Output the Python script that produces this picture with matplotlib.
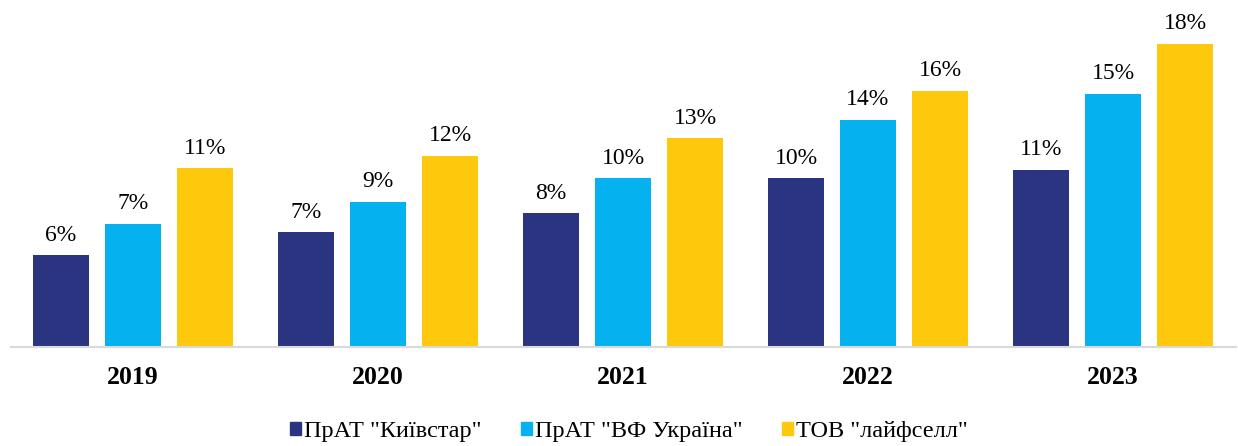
import numpy as np
import matplotlib.pyplot as plt
from matplotlib.patches import Patch

plt.rcParams['font.family'] = ['Liberation Serif', 'DejaVu Serif']

years = ['2019', '2020', '2021', '2022', '2023']
series_names = ['ПрАТ "Київстар"', 'ПрАТ "ВФ Україна"', 'ТОВ "лайфселл"']
kyivstar = [5.99, 7.30, 8.38, 10.37, 10.86]
vf = [7.77, 9.02, 10.37, 13.68, 15.18]
lifecell = [10.94, 11.65, 12.64, 15.35, 18.02]
kyivstar_lbl = ['6%', '7%', '8%', '10%', '11%']
vf_lbl = ['7%', '9%', '10%', '14%', '15%']
lifecell_lbl = ['11%', '12%', '13%', '16%', '18%']
colors = ['#2B3480', '#05B1EE', '#FEC80D']

fig = plt.figure(figsize=(12.38, 4.46), dpi=100)
ax = fig.add_axes([0.0085, 0.2226, 0.9895, 0.7774])

x = np.arange(len(years))
w = 0.229
step = 0.294
data = [kyivstar, vf, lifecell]
labels = [kyivstar_lbl, vf_lbl, lifecell_lbl]
for i in range(3):
    bars = ax.bar(x + (i - 1) * step, data[i], w, bottom=0, color=colors[i])
    for b, lbl in zip(bars, labels[i]):
        ax.annotate(lbl, (b.get_x() + b.get_width() / 2, b.get_height()),
                    xytext=(0, 7), textcoords='offset points',
                    ha='center', va='bottom', fontsize=17)

ax.set_xlim(-0.5, 4.5)
ax.set_ylim(0.8, 20.5)
ax.set_xticks(x)
ax.set_xticklabels(years, fontsize=18.5, fontweight='bold')
ax.tick_params(axis='x', length=0, pad=14)
ax.set_yticks([])
for s in ['top', 'right', 'left']:
    ax.spines[s].set_visible(False)
ax.spines['bottom'].set_color('#D9D9D9')
ax.spines['bottom'].set_linewidth(1.5)

handles = [Patch(color=c) for c in colors]
fig.legend(handles, series_names, loc='center', bbox_to_anchor=(0.508, 0.032),
           ncol=3, frameon=False, fontsize=17.5, handlelength=0.45, handleheight=0.45,
           handletextpad=0.15, columnspacing=1.6)

fig.savefig('out.png', dpi=100)
